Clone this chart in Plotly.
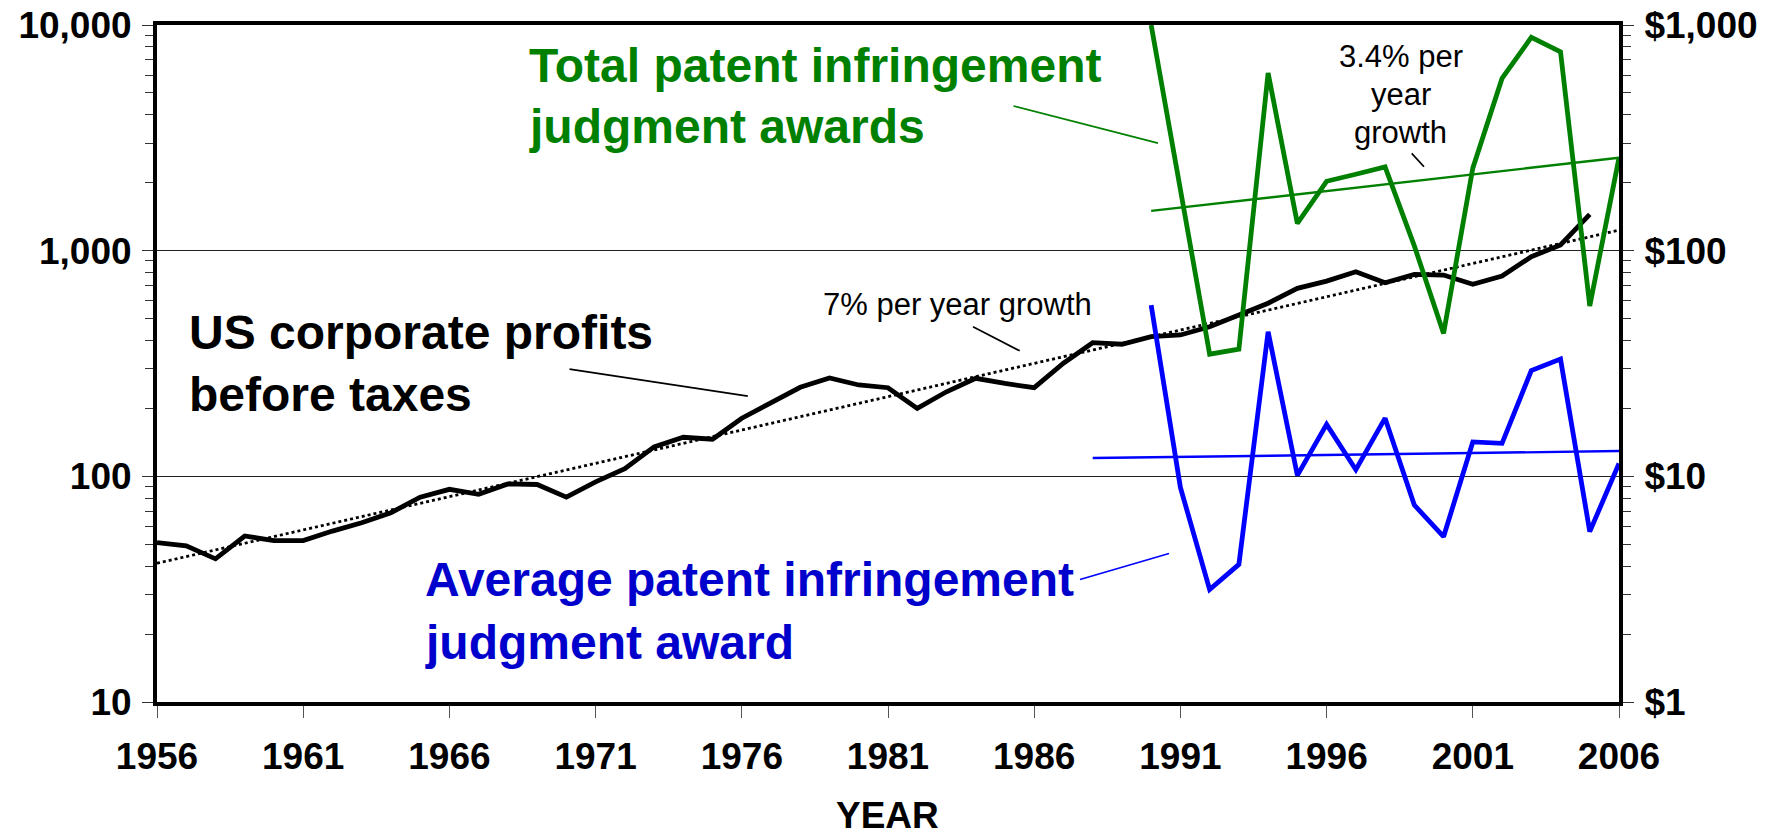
import plotly.graph_objects as go

# ---------------- data ----------------
profit_years = list(range(1956, 2006))
profits = [50.8, 49.2, 43.1, 54.4, 51.9, 51.9, 57.2, 62.3, 69.0, 80.8,
           87.6, 83.2, 92.5, 92.0, 80.9, 94.5, 108, 135, 149, 146,
           181, 213, 248, 273, 254, 247, 200, 237, 272, 258,
           247, 317, 391, 385, 416, 423, 460, 519, 585, 681,
           733, 807, 721, 785, 780, 710, 772, 940, 1060, 1449]

profit_trend_years = [1956, 2006]
profit_trend = [41.2, 1233]

patent_years = list(range(1990, 2007))
total_awards = [1000, 186, 34.8, 36.6, 613, 132, 203, 218, 235, 105,
                43, 232, 580, 881, 761, 56.9, 258]
avg_award = [57.4, 8.93, 3.15, 4.07, 43.7, 10.1, 17.0, 10.7, 18.1, 7.46,
             5.40, 14.2, 14.0, 29.4, 33.1, 5.69, 11.4]

total_trend_years = [1990, 2006]
total_trend = [150, 258]
avg_trend_years = [1988, 2006]
avg_trend = [12.05, 12.94]

left_ticks = [10, 100, 1000, 10000]
left_ticktext = ["10", "100", "1,000", "10,000"]
right_ticks = [1, 10, 100, 1000]
right_ticktext = ["$1", "$10", "$100", "$1,000"]

# ---------------- styling ----------------
W, H = 1782, 837
X0, X1 = 157, 1619            # plot area in page pixels
Y0, Y1 = 25, 701.7
FONT = "Liberation Sans, Arial, sans-serif"
GREEN = "#008000"
BLUE = "#0000FF"
BLUE_TXT = "#0000CC"


def pxx(x):
    return (x - X0) / (X1 - X0)


def pxy(y):
    return (Y1 - y) / (Y1 - Y0)


def minor_vals(lo_exp, hi_exp):
    return [m * 10 ** e for e in range(lo_exp, hi_exp) for m in range(2, 10)]


fig = go.Figure()

fig.add_trace(go.Scatter(x=profit_years, y=profits, mode="lines",
                         line=dict(color="black", width=4.8), yaxis="y"))
fig.add_trace(go.Scatter(x=profit_trend_years, y=profit_trend, mode="lines",
                         line=dict(color="black", width=2.8, dash="dot"), yaxis="y"))
fig.add_trace(go.Scatter(x=total_trend_years, y=total_trend, mode="lines",
                         line=dict(color=GREEN, width=2.4), yaxis="y2"))
fig.add_trace(go.Scatter(x=patent_years, y=total_awards, mode="lines",
                         line=dict(color=GREEN, width=4.8), yaxis="y2"))
fig.add_trace(go.Scatter(x=avg_trend_years, y=avg_trend, mode="lines",
                         line=dict(color=BLUE, width=2.4), yaxis="y2"))
fig.add_trace(go.Scatter(x=patent_years, y=avg_award, mode="lines",
                         line=dict(color=BLUE, width=4.8), yaxis="y2"))

tickfont = dict(family=FONT, size=37, color="black", weight="bold")

fig.update_layout(
    template="none",
    width=W, height=H,
    margin=dict(l=X0, r=W - X1, t=Y0, b=H - Y1, autoexpand=False),
    paper_bgcolor="white", plot_bgcolor="white",
    showlegend=False, hovermode=False,
    xaxis=dict(range=[1956, 2006], tickmode="linear", tick0=1956, dtick=5,
               automargin=False, ticklabeloverflow="allow",
               showgrid=False, zeroline=False,
               showline=True, linecolor="black", linewidth=4, mirror=True,
               ticks="outside", ticklen=12, tickwidth=1, tickcolor="#555",
               tickfont=tickfont, ticklabelstandoff=7),
    yaxis=dict(type="log", range=[1, 4], tickmode="array",
               tickvals=left_ticks, ticktext=left_ticktext,
               automargin=False, ticklabeloverflow="allow",
               showgrid=True, gridcolor="#222", gridwidth=1, zeroline=False,
               showline=True, linecolor="black", linewidth=4,
               ticks="outside", ticklen=11, tickwidth=1, tickcolor="#333",
               minor=dict(tickmode="array", tickvals=minor_vals(1, 4),
                          ticks="outside", ticklen=8, tickwidth=1,
                          tickcolor="#333", showgrid=False),
               tickfont=tickfont, ticklabelstandoff=3),
    yaxis2=dict(type="log", range=[0, 3], overlaying="y", side="right",
                tickmode="array", tickvals=right_ticks, ticktext=right_ticktext,
                automargin=False, ticklabeloverflow="allow",
                showgrid=False, zeroline=False,
                showline=True, linecolor="black", linewidth=4,
                ticks="outside", ticklen=11, tickwidth=1, tickcolor="#333",
                minor=dict(tickmode="array", tickvals=minor_vals(0, 3),
                           ticks="outside", ticklen=8, tickwidth=1,
                           tickcolor="#333", showgrid=False),
                tickfont=tickfont, ticklabelstandoff=3),
)

big_labels = [
    ("Total patent infringement", 526.7, 65.5, GREEN),
    ("judgment awards", 526.7, 126.0, GREEN),
    ("US corporate profits", 186.7, 332.0, "black"),
    ("before taxes", 186.7, 394.5, "black"),
    ("Average patent infringement", 423, 579.0, BLUE_TXT),
    ("judgment award", 423, 642.0, BLUE_TXT),
]
for text, x, y, col in big_labels:
    fig.add_annotation(text=text, x=pxx(x), y=pxy(y), xref="paper", yref="paper",
                       xanchor="left", yanchor="middle", showarrow=False,
                       font=dict(family=FONT, size=48, color=col, weight="bold"))

small_labels = [
    ("7% per year growth", 821.0, 304.6, "left"),
    ("3.4% per", 1400.8, 56.9, "center"),
    ("year", 1400.8, 94.6, "center"),
    ("growth", 1400.8, 132.9, "center"),
]
for text, x, y, anc in small_labels:
    fig.add_annotation(text=text, x=pxx(x), y=pxy(y), xref="paper", yref="paper",
                       xanchor=anc, yanchor="middle", showarrow=False,
                       font=dict(family=FONT, size=31, color="black"))

fig.add_annotation(text="YEAR", x=pxx(887), y=pxy(815.5), xref="paper", yref="paper",
                   xanchor="center", yanchor="middle", showarrow=False,
                   font=dict(family=FONT, size=37, color="black", weight="bold"))

leaders = [
    ((569.5, 369), (747.8, 396), "black"),
    ((973, 326.7), (1019.7, 350.7), "black"),
    ((1013.5, 106), (1158, 143), GREEN),
    ((1411.7, 153.3), (1424, 166.7), "black"),
    ((1080, 579.3), (1169, 553.3), BLUE),
]
for (a, b, col) in leaders:
    fig.add_shape(type="line", xref="paper", yref="paper",
                  x0=pxx(a[0]), y0=pxy(a[1]), x1=pxx(b[0]), y1=pxy(b[1]),
                  line=dict(color=col, width=1.7))

fig.write_html("out.html", config={"displayModeBar": False},
               post_script="document.body.style.margin='0';"
                           "document.body.style.overflow='hidden';")
